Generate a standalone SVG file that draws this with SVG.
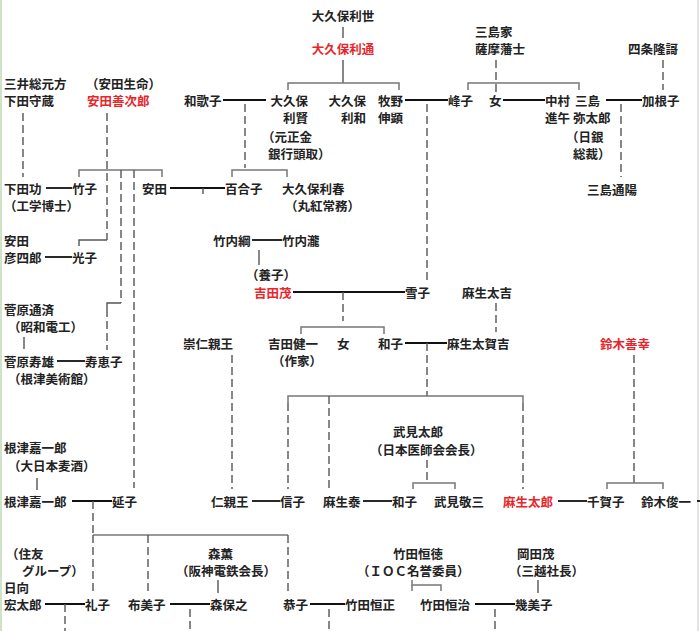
<svg xmlns="http://www.w3.org/2000/svg" width="700" height="631" viewBox="0 0 700 631">
<style>
text{font-family:"Noto Sans CJK JP","Liberation Sans",sans-serif;font-size:12.5px;font-weight:bold;fill:#222;dominant-baseline:central}
.r{fill:#e8262a}
.m{stroke:#111;stroke-width:1.8;fill:none}
.b{stroke:#777;stroke-width:1.5;fill:none}
.d{stroke:#555;stroke-width:1.4;stroke-dasharray:8,4;fill:none}
.s{stroke:#555;stroke-width:1.4;fill:none}
</style>
<rect width="700" height="631" fill="#fff"/>
<line x1="1" y1="0" x2="1" y2="631" stroke="#cfe3c8" stroke-width="2"/>
<line x1="698" y1="0" x2="698" y2="631" stroke="#e4e4e4" stroke-width="2"/>
<g id="connectors">
<line class="s" x1="343" y1="27" x2="343" y2="38"/>
<line class="s" x1="343" y1="60" x2="343" y2="83"/>
<path class="b" d="M288 90V83H399V90"/>
<line class="m" x1="223" y1="100" x2="266" y2="100"/>
<line class="d" x1="245" y1="104" x2="245" y2="168"/>
<path class="b" d="M232 177V170H287V177"/>
<line class="m" x1="405" y1="100" x2="448" y2="100"/>
<line class="d" x1="427" y1="104" x2="427" y2="283"/>
<line class="d" x1="496" y1="60" x2="496" y2="94"/>
<path class="b" d="M468 90V83H579V90"/>
<line class="m" x1="503" y1="100" x2="545" y2="100"/>
<line class="m" x1="606" y1="100" x2="642" y2="100"/>
<line class="d" x1="621" y1="104" x2="621" y2="177"/>
<line class="d" x1="663" y1="60" x2="663" y2="90"/>
<line class="d" x1="23" y1="113" x2="23" y2="177"/>
<line class="d" x1="107" y1="113" x2="107" y2="240"/>
<path class="b" d="M79 177V170H162V177"/>
<line class="d" x1="121" y1="170" x2="121" y2="303"/>
<line class="d" x1="134" y1="170" x2="134" y2="488"/>
<path class="s" d="M107 240H79V246"/>
<path class="s" d="M121 303H107V309"/>
<line class="d" x1="107" y1="309" x2="107" y2="350"/>
<line class="s" x1="24" y1="337" x2="24" y2="349"/>
<line class="m" x1="57" y1="361" x2="85" y2="361"/>
<line class="m" x1="46" y1="188" x2="72" y2="188"/>
<line class="m" x1="170" y1="188" x2="225" y2="188"/>
<line class="s" x1="203" y1="188" x2="203" y2="194"/>
<line class="m" x1="45" y1="257" x2="72" y2="257"/>
<line class="m" x1="252" y1="240" x2="282" y2="240"/>
<line class="s" x1="259" y1="250" x2="259" y2="265"/>
<line class="m" x1="293" y1="292" x2="405" y2="292"/>
<line class="d" x1="343" y1="292" x2="343" y2="321"/>
<path class="b" d="M301 334V327H384V334"/>
<line class="d" x1="496" y1="303" x2="496" y2="332"/>
<line class="m" x1="405" y1="343" x2="447" y2="343"/>
<line class="d" x1="427" y1="343" x2="427" y2="396"/>
<path class="b" d="M288 403V396H523V403"/>
<line class="d" x1="288" y1="403" x2="288" y2="489"/>
<line class="d" x1="329" y1="396" x2="329" y2="489"/>
<line class="d" x1="523" y1="403" x2="523" y2="489"/>
<line class="d" x1="232" y1="355" x2="232" y2="489"/>
<line class="d" x1="427" y1="460" x2="427" y2="483"/>
<path class="b" d="M413 489V483H455V489"/>
<line class="d" x1="634" y1="355" x2="634" y2="483"/>
<path class="b" d="M607 489V483H663V489"/>
<line class="m" x1="252" y1="501" x2="280" y2="501"/>
<line class="m" x1="363" y1="501" x2="392" y2="501"/>
<line class="m" x1="558" y1="501" x2="587" y2="501"/>
<line class="m" x1="697" y1="501" x2="700" y2="501"/>
<line class="s" x1="37" y1="478" x2="37" y2="490"/>
<line class="m" x1="72" y1="501" x2="112" y2="501"/>
<line class="d" x1="93" y1="501" x2="93" y2="535"/>
<path class="b" d="M93 535H288"/>
<line class="d" x1="93" y1="535" x2="93" y2="592"/>
<line class="d" x1="148" y1="535" x2="148" y2="592"/>
<line class="d" x1="288" y1="535" x2="288" y2="592"/>
<line class="m" x1="45" y1="604" x2="85" y2="604"/>
<line class="d" x1="65" y1="604" x2="65" y2="631"/>
<line class="s" x1="218" y1="580" x2="218" y2="593"/>
<line class="m" x1="170" y1="604" x2="210" y2="604"/>
<line class="d" x1="190" y1="609" x2="190" y2="631"/>
<line class="m" x1="310" y1="604" x2="345" y2="604"/>
<line class="d" x1="329" y1="609" x2="329" y2="631"/>
<path class="b" d="M412 580V585H441V591"/>
<line class="b" x1="412" y1="585" x2="412" y2="591"/>
<line class="m" x1="475" y1="604" x2="515" y2="604"/>
<line class="d" x1="495" y1="609" x2="495" y2="631"/>
<line class="s" x1="538" y1="580" x2="538" y2="593"/>
</g>
<g id="n-toshiyo"><text x="343" y="15" text-anchor="middle">大久保利世</text></g>
<g id="n-toshimichi"><text class="r" x="343" y="48" text-anchor="middle">大久保利通</text></g>
<g id="n-wakako"><text x="184" y="100">和歌子</text></g>
<g id="n-toshikata"><text x="308" y="100" text-anchor="end">大久保</text><text x="308" y="117" text-anchor="end">利賢</text><text x="262" y="136">（元正金</text><text x="268" y="153">銀行頭取）</text></g>
<g id="n-toshikazu"><text x="366" y="100" text-anchor="end">大久保</text><text x="366" y="117" text-anchor="end">利和</text></g>
<g id="n-makino"><text x="378" y="100">牧野</text><text x="378" y="117">伸顕</text></g>
<g id="n-mishimake"><text x="475" y="31">三島家</text><text x="475" y="48">薩摩藩士</text></g>
<g id="n-mineko"><text x="448" y="100">峰子</text></g>
<g id="n-onna1"><text x="489" y="100">女</text></g>
<g id="n-nakamura"><text x="545" y="100">中村</text><text x="545" y="117">進午</text></g>
<g id="n-yataro"><text x="575" y="100">三島</text><text x="573" y="117">弥太郎</text><text x="566" y="136">（日銀</text><text x="573" y="153">総裁）</text></g>
<g id="n-shijo"><text x="628" y="48">四条隆謌</text></g>
<g id="n-kaneko"><text x="642" y="100">加根子</text></g>
<g id="n-michiharu"><text x="587" y="189">三島通陽</text></g>
<g id="n-shimodamorizo"><text x="4" y="83">三井総元方</text><text x="4" y="100">下田守蔵</text></g>
<g id="n-yasudazenjiro"><text x="86" y="83">（安田生命）</text><text class="r" x="87" y="100">安田善次郎</text></g>
<g id="n-shimodaisao"><text x="4" y="188">下田功</text><text x="4" y="205">（工学博士）</text></g>
<g id="n-takeko"><text x="72" y="188">竹子</text></g>
<g id="n-yasuda"><text x="142" y="188">安田</text></g>
<g id="n-yuriko"><text x="225" y="188">百合子</text></g>
<g id="n-toshiharu"><text x="282" y="188">大久保利春</text><text x="285" y="205">（丸紅常務）</text></g>
<g id="n-hikoshiro"><text x="4" y="240">安田</text><text x="4" y="257">彦四郎</text></g>
<g id="n-mitsuko"><text x="72" y="257">光子</text></g>
<g id="n-takeuchitsuna"><text x="213" y="240">竹内綱</text></g>
<g id="n-takeuchitaki"><text x="282" y="240">竹内瀧</text></g>
<g id="n-yoshidashigeru"><text x="246" y="274">（養子）</text><text class="r" x="254" y="292">吉田茂</text></g>
<g id="n-yukiko"><text x="405" y="292">雪子</text></g>
<g id="n-asotakichi"><text x="462" y="292">麻生太吉</text></g>
<g id="n-sugaharamichinari"><text x="4" y="309">菅原通済</text><text x="8" y="326">（昭和電工）</text></g>
<g id="n-sugaharahisao"><text x="4" y="361">菅原寿雄</text><text x="8" y="378">（根津美術館）</text></g>
<g id="n-sueko"><text x="85" y="361">寿恵子</text></g>
<g id="n-mikasa"><text x="183" y="343">崇仁親王</text></g>
<g id="n-kenichi"><text x="268" y="343">吉田健一</text><text x="272" y="360">（作家）</text></g>
<g id="n-onna2"><text x="337" y="343">女</text></g>
<g id="n-kazuko1"><text x="378" y="343">和子</text></g>
<g id="n-takakichi"><text x="447" y="343">麻生太賀吉</text></g>
<g id="n-suzukizenko"><text class="r" x="600" y="343">鈴木善幸</text></g>
<g id="n-takemitaro"><text x="393" y="431">武見太郎</text><text x="370" y="449">（日本医師会会長）</text></g>
<g id="n-nezu1"><text x="4" y="447">根津嘉一郎</text><text x="8" y="465">（大日本麦酒）</text></g>
<g id="n-nezu2"><text x="4" y="501">根津嘉一郎</text></g>
<g id="n-nobuko2"><text x="112" y="501">延子</text></g>
<g id="n-tomohito"><text x="211" y="501">仁親王</text></g>
<g id="n-nobuko"><text x="280" y="501">信子</text></g>
<g id="n-asoyutaka"><text x="323" y="501">麻生泰</text></g>
<g id="n-kazuko2"><text x="392" y="501">和子</text></g>
<g id="n-takemikeizo"><text x="434" y="501">武見敬三</text></g>
<g id="n-asotaro"><text class="r" x="503" y="501">麻生太郎</text></g>
<g id="n-chikako"><text x="587" y="501">千賀子</text></g>
<g id="n-suzukishunichi"><text x="641" y="501">鈴木俊一</text></g>
<g id="n-hyuga"><text x="6" y="553">（住友</text><text x="22" y="570">グループ）</text><text x="4" y="587">日向</text><text x="4" y="604">宏太郎</text></g>
<g id="n-reiko"><text x="85" y="604">礼子</text></g>
<g id="n-fumiko"><text x="128" y="604">布美子</text></g>
<g id="n-morikaoru"><text x="208" y="553">森薫</text><text x="176" y="570">（阪神電鉄会長）</text></g>
<g id="n-moriyasuyuki"><text x="210" y="604">森保之</text></g>
<g id="n-kyoko"><text x="283" y="604">恭子</text></g>
<g id="n-takedatsunenori"><text x="393" y="553">竹田恒徳</text><text x="357" y="570">（ＩＯＣ名誉委員）</text></g>
<g id="n-tsunemasa"><text x="345" y="604">竹田恒正</text></g>
<g id="n-tsuneharu"><text x="420" y="604">竹田恒治</text></g>
<g id="n-okada"><text x="517" y="553">岡田茂</text><text x="509" y="570">（三越社長）</text></g>
<g id="n-kimiko"><text x="515" y="604">幾美子</text></g>
</svg>
